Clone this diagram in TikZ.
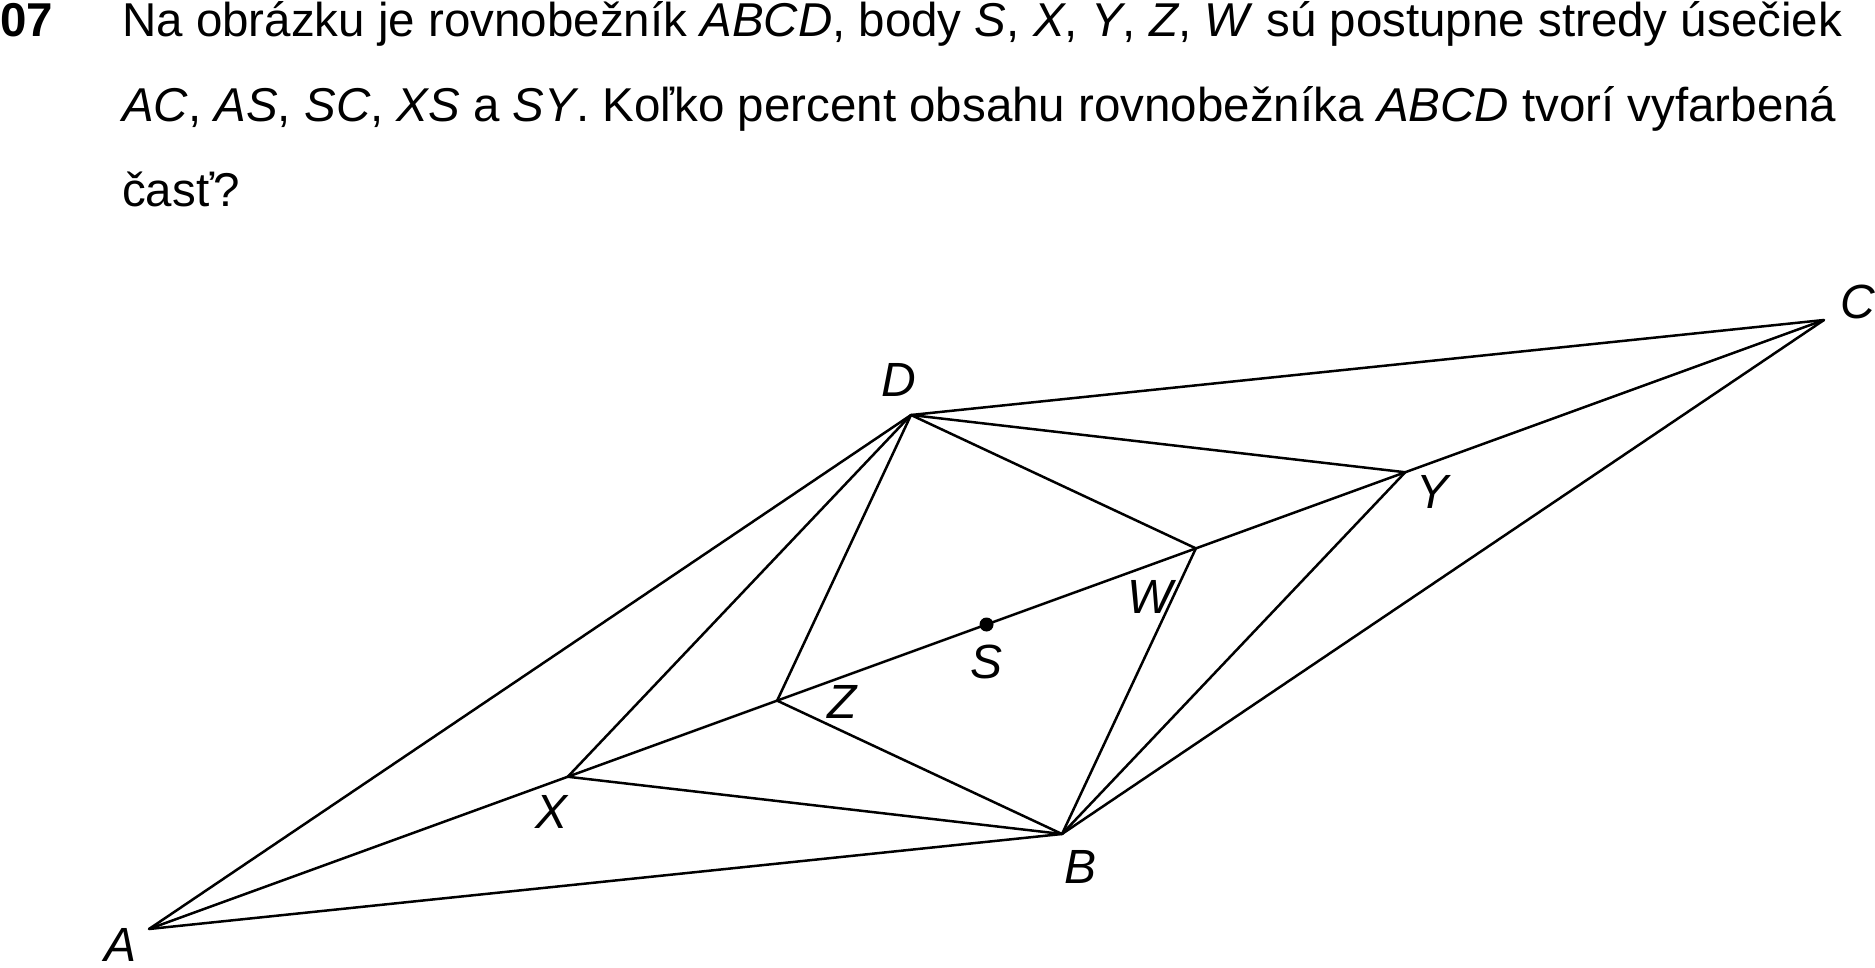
\documentclass[tikz,border=0pt]{standalone}
\usepackage{fontspec}
\setmainfont{Liberation Sans}
\usetikzlibrary{calc}
\begin{document}
\begin{tikzpicture}[x=1pt,y=-1pt,
  edge/.style={line width=2.5pt, line join=round},
  lbl/.style={inner sep=0pt, font=\fontsize{48}{56}\selectfont\itshape},
  txt/.style={inner sep=0pt, anchor=base west, font=\fontsize{47.5}{56}\selectfont}]
\useasboundingbox (0,0) rectangle (1875,968);
% vertices
\coordinate (A) at (149,929);
\coordinate (B) at (1062,834);
\coordinate (C) at (1824,320);
\coordinate (D) at (911,415);
\coordinate (S) at ($(A)!0.5!(C)$);
\coordinate (X) at ($(A)!0.5!(S)$);
\coordinate (Y) at ($(S)!0.5!(C)$);
\coordinate (Z) at ($(X)!0.5!(S)$);
\coordinate (W) at ($(S)!0.5!(Y)$);
% edges
\draw[edge] (A) -- (B) -- (C) -- (D) -- cycle;
\draw[edge] (A) -- (C);
\draw[edge] (D) -- (X) -- (B);
\draw[edge] (D) -- (Y) -- (B);
\draw[edge] (D) -- (Z) -- (B);
\draw[edge] (D) -- (W) -- (B);
\fill (S) circle (7);
% labels
\node[lbl] (lA) at (121,945) {A};
\node[lbl] (lB) at (1080,867) {B};
\node[lbl] (lC) at (1858,302) {C};
\node[lbl] (lD) at (899,380) {D};
\node[lbl] (lS) at (986,662) {S};
\node[lbl] (lX) at (552,812) {X};
\node[lbl] (lY) at (1432,492) {Y};
\node[lbl] (lZ) at (842,702) {Z};
\node[lbl] (lW) at (1150,597) {W};
% text
\node[txt, font=\fontsize{47.5}{56}\selectfont\bfseries] (num) at (0,36.7) {07};
\node[txt] (t1) at (122,36.7) {Na obrázku je rovnobežník \textit{ABCD}, body \textit{S}, \textit{X}, \textit{Y}, \textit{Z}, \textit{W} sú postupne stredy úsečiek};
\node[txt] (t2) at (122,121.7) {\textit{AC}, \textit{AS}, \textit{SC}, \textit{XS} a \textit{SY}. Koľko percent obsahu rovnobežníka \textit{ABCD} tvorí vyfarbená};
\node[txt] (t3) at (122,206.7) {časť?};
\end{tikzpicture}
\end{document}
